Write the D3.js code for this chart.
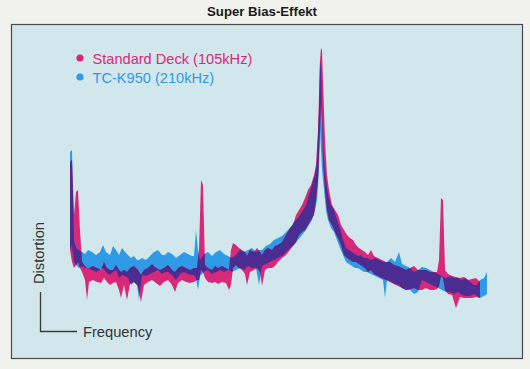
<!DOCTYPE html>
<html><head><meta charset="utf-8">
<script src="https://cdn.jsdelivr.net/npm/d3@7"></script>
<style>
html,body{margin:0;padding:0;background:#f1f2ee;}
svg{display:block;}
</style></head>
<body>
<svg id="chart" width="530" height="369"></svg>
<script>
// ---- data (relative frequency index, distortion level: upper/lower edge of the trace band) ----
const title = "Super Bias-Effekt";
const seriesNames = ["Standard Deck (105kHz)", "TC-K950 (210kHz)"];
const axisLabels = {x: "Frequency", y: "Distortion"};

const stdFreq = [2,4,6,8,10,12,14,17,19,21,25,29,33,36,39,42,45,48,51,53,56,59,62,66,70,73,76,80,84,88,92,96,100,104,107,110,114,118,122,126,129,131,133,135,137,140,144,147,150,154,158,161,163,165,168,171,174,177,179,182,186,189,192,194,197,200,204,207,210,214,218,222,225,228,231,234,237,240,243,246,248,250,252,253,254,255,257,259,261,264,267,270,273,276,279,282,285,288,291,294,297,300,303,306,310,314,318,322,326,330,334,338,342,346,350,354,358,362,366,369,371,373,375,377,380,384,388,392,396,400,404,408,412];
const stdHigh = [148,150,95,118,120,80,48,44,42,42,44,42,40,48,42,40,40,45,40,38,40,38,42,44,40,35,40,42,46,42,40,42,45,40,38,42,44,42,40,42,42,60,130,125,45,42,40,44,42,44,42,40,60,67,65,62,60,58,54,60,58,62,58,55,60,62,60,64,65,68,75,82,85,95,100,105,112,120,125,135,145,180,250,262,260,230,170,135,120,105,100,95,85,80,75,72,70,65,62,60,58,55,60,54,52,50,48,48,45,44,42,40,42,44,40,40,40,38,38,38,50,112,110,40,36,34,33,32,33,30,31,32,28];
const stdLow  = [60,48,42,45,48,42,38,30,10,28,30,28,27,32,28,25,27,28,20,12,25,10,26,28,24,8,25,28,30,27,24,28,30,25,18,27,30,28,27,28,30,30,40,38,32,28,27,28,26,28,27,20,25,42,45,42,40,36,25,38,40,42,38,24,40,42,42,44,48,52,55,60,64,68,75,78,80,85,90,95,110,130,180,210,190,150,120,100,90,85,78,72,65,55,52,50,48,48,46,44,42,38,40,36,34,32,30,28,26,24,22,20,21,22,20,20,22,20,20,21,24,34,32,20,16,15,2,13,12,12,12,13,12];

const tcFreq = [2,4,6,8,11,14,17,20,24,28,32,35,38,42,45,48,51,54,57,60,63,66,69,71,74,78,82,86,90,94,97,100,104,108,112,116,120,124,126,128,130,132,136,140,144,148,152,156,160,164,168,172,176,180,184,188,191,194,198,202,206,210,214,218,222,226,230,234,238,241,244,247,249,251,252,253,254,256,258,260,263,266,269,272,275,278,281,284,287,290,293,296,299,303,307,311,315,317,319,323,327,331,334,338,342,346,350,354,358,362,366,370,374,378,382,386,390,394,398,402,406,409,412,416,419];
const tcHigh = [158,160,70,62,60,58,56,60,58,55,58,65,58,55,64,60,55,62,58,55,52,54,50,50,52,50,54,58,60,55,55,58,56,52,55,58,56,54,54,80,60,50,56,58,54,58,60,56,54,52,55,60,58,60,62,58,60,60,64,66,70,72,74,78,82,88,92,98,105,115,125,135,150,200,250,240,200,150,130,115,105,100,90,82,70,62,60,58,56,54,55,52,52,50,52,50,48,48,48,52,48,58,46,44,42,38,40,43,42,40,38,36,34,32,34,32,32,30,32,28,25,25,30,32,38,40];
const tcLow  = [60,65,48,45,42,44,42,42,40,38,40,42,38,35,38,40,32,35,34,32,25,28,25,10,35,34,36,38,40,36,38,38,35,30,36,38,36,35,35,32,20,34,38,40,36,38,40,38,40,38,40,42,40,44,42,42,25,44,46,48,50,52,54,58,62,65,70,75,80,85,90,100,110,140,180,160,140,120,100,90,82,78,70,62,55,48,46,44,42,42,40,38,38,36,34,32,30,12,30,28,26,25,22,20,20,16,18,30,28,26,24,22,20,18,18,16,18,15,14,14,16,14,12,14,16,20,25,32];

// ---- layout ----
const svg = d3.select("#chart");
const W = 530, H = 369;
const colStd = "#d8287a", colTc = "#2f9be6", colMix = "#4b2c90";
const font = "Liberation Sans, Arial, sans-serif";

svg.append("rect").attr("x", 0).attr("y", 0).attr("width", W).attr("height", H).attr("fill", "#f1f2ee");
svg.append("rect").attr("x", 11.5).attr("y", 24.5).attr("width", 511).attr("height", 334)
  .attr("fill", "#d2e7eb").attr("stroke", "#4a4a4a").attr("stroke-width", 1.2);

svg.append("text").attr("x", 262).attr("y", 16).attr("text-anchor", "middle")
  .attr("font-family", font).attr("font-weight", "bold")
  .attr("font-size", 13.2).attr("fill", "#1a1a1a").text(title);

const x = d3.scaleLinear().domain([0, 420]).range([68, 488]);
const y = d3.scaleLinear().domain([0, 270]).range([310, 40]);

function rows(f, hi, lo) { return f.map((v, i) => ({f: v, hi: hi[i], lo: lo[i]})); }
const stdData = rows(stdFreq, stdHigh, stdLow);
const tcData = rows(tcFreq, tcHigh, tcLow);

const area = d3.area().x(d => x(d.f)).y0(d => y(d.lo)).y1(d => y(d.hi)).curve(d3.curveLinear);

const defs = svg.append("defs");
defs.append("clipPath").attr("id", "tcClip").append("path").attr("d", area(tcData));

svg.append("path").attr("d", area(tcData)).attr("fill", colTc);
svg.append("path").attr("d", area(stdData)).attr("fill", colStd);
svg.append("path").attr("d", area(stdData)).attr("fill", colMix).attr("clip-path", "url(#tcClip)");

// legend
const lg = svg.append("g").attr("font-family", font).attr("font-size", 14.6);
[[colStd, 58, 64], [colTc, 77, 83]].forEach((c, i) => {
  lg.append("circle").attr("cx", 80).attr("cy", c[1]).attr("r", 3.6).attr("fill", c[0]);
  lg.append("text").attr("x", 92.5).attr("y", c[2]).attr("fill", c[0]).text(seriesNames[i]);
});

// axis bracket
svg.append("path").attr("d", "M40.5,292 V331.5 H77").attr("fill", "none").attr("stroke", "#3a3a3a").attr("stroke-width", 1.3);
svg.append("text").attr("x", 83).attr("y", 337).attr("font-family", font)
  .attr("font-size", 14.7).attr("fill", "#333").text(axisLabels.x);
svg.append("text").attr("transform", "translate(44,284) rotate(-90)").attr("font-family", font)
  .attr("font-size", 14.7).attr("fill", "#333").text(axisLabels.y);
</script>
</body></html>
